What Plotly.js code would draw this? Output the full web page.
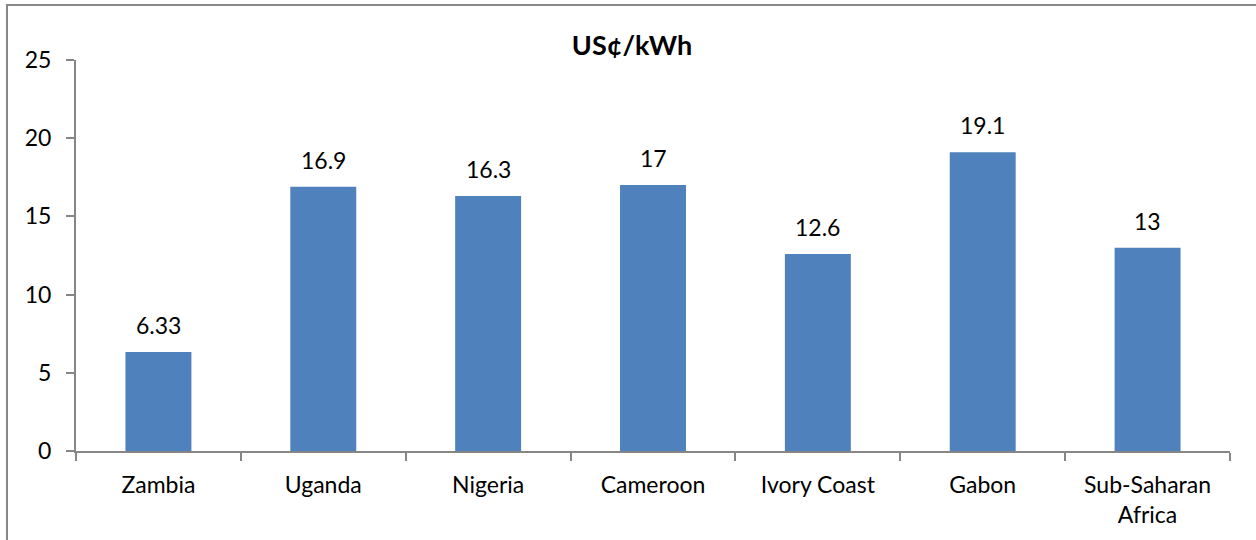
<!DOCTYPE html>
<html>
<head>
<meta charset="utf-8">
<script src="https://cdn.plot.ly/plotly-3.0.1.min.js"></script>
<style>
  html, body { margin: 0; padding: 0; background: #ffffff; }
  #frame {
    position: absolute; left: 6px; top: 4px; width: 1256px; height: 540px;
    border-left: 2px solid #888888; border-top: 2px solid #888888;
    box-sizing: border-box; pointer-events: none; z-index: 5;
  }
  #chart { position: absolute; left: 0; top: 0; width: 1256px; height: 540px; }
</style>
</head>
<body>
<div id="chart"></div>
<div id="frame"></div>
<script>
// Electricity tariffs, US cents per kWh
const countries = ["Zambia", "Uganda", "Nigeria", "Cameroon", "Ivory Coast", "Gabon", "Sub-Saharan<br>Africa"];
const tariffs = [6.33, 16.9, 16.3, 17, 12.6, 19.1, 13];
const tariffLabels = ["6.33", "16.9", "16.3", "17", "12.6", "19.1", "13"];
const yTicks = [0, 5, 10, 15, 20, 25];

const FONT = "Lato, 'Open Sans', sans-serif";
const AXIS = "#868686";
const TXT = 23;

const bars = {
  type: "bar",
  x: countries,
  y: tariffs,
  marker: { color: "#4F81BD", line: { width: 0 } },
  width: 0.4,
  hoverinfo: "skip"
};

const valueNotes = countries.map((c, i) => ({
  x: c, y: tariffs[i], xref: "x", yref: "y",
  text: tariffLabels[i], showarrow: false,
  yanchor: "bottom", yshift: 11,
  font: { family: FONT, size: TXT, color: "#000000" }
}));

const layout = {
  width: 1256, height: 540,
  margin: { l: 76, r: 26, t: 60, b: 89 },
  paper_bgcolor: "#ffffff", plot_bgcolor: "#ffffff",
  showlegend: false,
  bargap: 0.6,
  title: {
    text: "<b>US¢/kWh</b>",
    font: { family: FONT, size: 27, color: "#000000" },
    x: 632 / 1256, xref: "container", xanchor: "center",
    y: 1 - 46 / 540, yref: "container", yanchor: "middle"
  },
  xaxis: {
    type: "category",
    tickson: "boundaries",
    ticks: "outside", ticklen: 8, tickwidth: 2, tickcolor: AXIS,
    showline: true, linecolor: AXIS, linewidth: 2,
    showgrid: false, zeroline: false,
    ticklabelstandoff: 12,
    tickfont: { family: FONT, size: TXT, color: "#000000" }
  },
  yaxis: {
    range: [0, 25],
    tickvals: yTicks,
    ticktext: yTicks.map(String),
    ticks: "outside", ticklen: 8, tickwidth: 2, tickcolor: AXIS,
    showline: true, linecolor: AXIS, linewidth: 2,
    showgrid: false, zeroline: false,
    ticklabelstandoff: 10,
    tickfont: { family: FONT, size: TXT, color: "#000000" }
  },
  annotations: valueNotes
};

Plotly.newPlot("chart", [bars], layout, { staticPlot: true, displayModeBar: false });
</script>
</body>
</html>
